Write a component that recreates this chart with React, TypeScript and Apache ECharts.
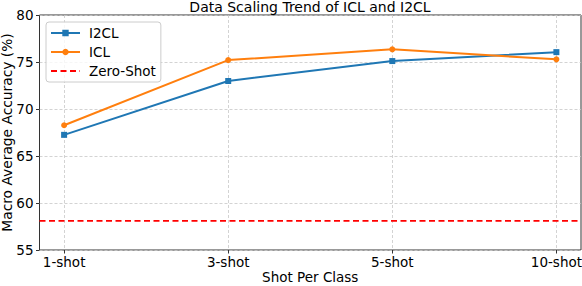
import React, { useEffect, useRef } from "react";
import * as echarts from "echarts";

const categories = ["1-shot", "3-shot", "5-shot", "10-shot"];
const i2clValues = [67.25, 72.98, 75.1, 76.05];
const iclValues = [68.27, 75.2, 76.35, 75.28];
const zeroShotValue = 58.1;
const yTicks = [55, 60, 65, 70, 75, 80];

const FONT = "DejaVu Sans";
const FS = 13.5;

export default function App() {
  const ref = useRef<HTMLDivElement>(null);
  useEffect(() => {
    document.body.style.margin = "0";
    if (!ref.current) return;
    const chart = echarts.init(ref.current, undefined, { renderer: "svg" });
    // categories placed at positions 1..n on a value axis (matplotlib-like 5% margins)
    const pos = categories.map((_, i) => i + 1);
    const xMin = 1 - 0.15;
    const xMax = categories.length + 0.15;
    const gridLine = { show: true, lineStyle: { color: "#c8c8c8", type: [3, 2] as any, width: 0.8 } };
    chart.setOption({
      animation: false,
      backgroundColor: "#ffffff",
      title: {
        text: "Data Scaling Trend of ICL and I2CL",
        left: 310,
        textAlign: "center",
        top: 0,
        padding: 0,
        textStyle: { fontFamily: FONT, fontSize: 14, fontWeight: "normal", color: "#000" },
      },
      legend: {
        orient: "vertical",
        left: 46,
        top: 22,
        padding: [4, 5, 4, 4],
        itemGap: 5,
        itemWidth: 29,
        itemHeight: 8,
        backgroundColor: "rgba(255,255,255,0.8)",
        borderColor: "#cccccc",
        borderWidth: 1,
        borderRadius: 3,
        textStyle: { fontFamily: FONT, fontSize: FS, color: "#000", padding: [0, 0, 0, 4] },
        data: [
          { name: "I2CL" },
          { name: "ICL" },
          { name: "Zero-Shot", itemStyle: { opacity: 0 } },
        ],
      },
      grid: {
        left: 39.5,
        right: 1,
        top: 15,
        bottom: 36,
        show: true,
        borderColor: "#333",
        borderWidth: 1,
        backgroundColor: "transparent",
        containLabel: false,
        outerBoundsMode: "none",
      },
      xAxis: {
        type: "value",
        min: xMin,
        max: xMax,
        name: "Shot Per Class",
        nameLocation: "middle",
        nameGap: 20,
        nameMoveOverlap: false,
        nameTextStyle: { fontFamily: FONT, fontSize: FS, color: "#000" },
        axisLine: { show: false, onZero: false },
        axisTick: { show: true, customValues: pos, length: 3.5, lineStyle: { color: "#333" } },
        axisLabel: {
          customValues: pos,
          margin: 5,
          fontFamily: FONT,
          fontSize: FS,
          color: "#000",
          formatter: (v: number) => categories[Math.round(v) - 1] ?? "",
        },
        splitLine: gridLine,
      },
      yAxis: {
        type: "value",
        min: yTicks[0],
        max: yTicks[yTicks.length - 1],
        interval: 5,
        name: "Macro Average Accuracy (%)",
        nameLocation: "middle",
        nameGap: 26,
        nameMoveOverlap: false,
        nameTextStyle: { fontFamily: FONT, fontSize: 13.8, color: "#000" },
        axisLine: { show: false, onZero: false },
        axisTick: { show: true, length: 3.5, lineStyle: { color: "#333" } },
        axisLabel: { margin: 6, fontFamily: FONT, fontSize: FS, color: "#000" },
        splitLine: gridLine,
      },
      series: [
        {
          name: "I2CL",
          type: "line",
          data: i2clValues.map((v, i) => [pos[i], v]),
          symbol: "rect",
          symbolSize: 6,
          color: "#1f77b4",
          lineStyle: { width: 2, color: "#1f77b4" },
          itemStyle: { color: "#1f77b4" },
          z: 3,
        },
        {
          name: "ICL",
          type: "line",
          data: iclValues.map((v, i) => [pos[i], v]),
          symbol: "circle",
          symbolSize: 6,
          color: "#ff7f0e",
          lineStyle: { width: 2, color: "#ff7f0e" },
          itemStyle: { color: "#ff7f0e" },
          z: 4,
        },
        {
          name: "Zero-Shot",
          type: "line",
          data: [[xMin, zeroShotValue], [xMax, zeroShotValue]],
          symbol: "none",
          showSymbol: false,
          color: "#ff0000",
          lineStyle: { width: 1.8, color: "#ff0000", type: [6, 3.5] as any },
          z: 5,
        },
      ],
    });
    return () => chart.dispose();
  }, []);
  return <div ref={ref} style={{ width: 582, height: 286 }} />;
}
